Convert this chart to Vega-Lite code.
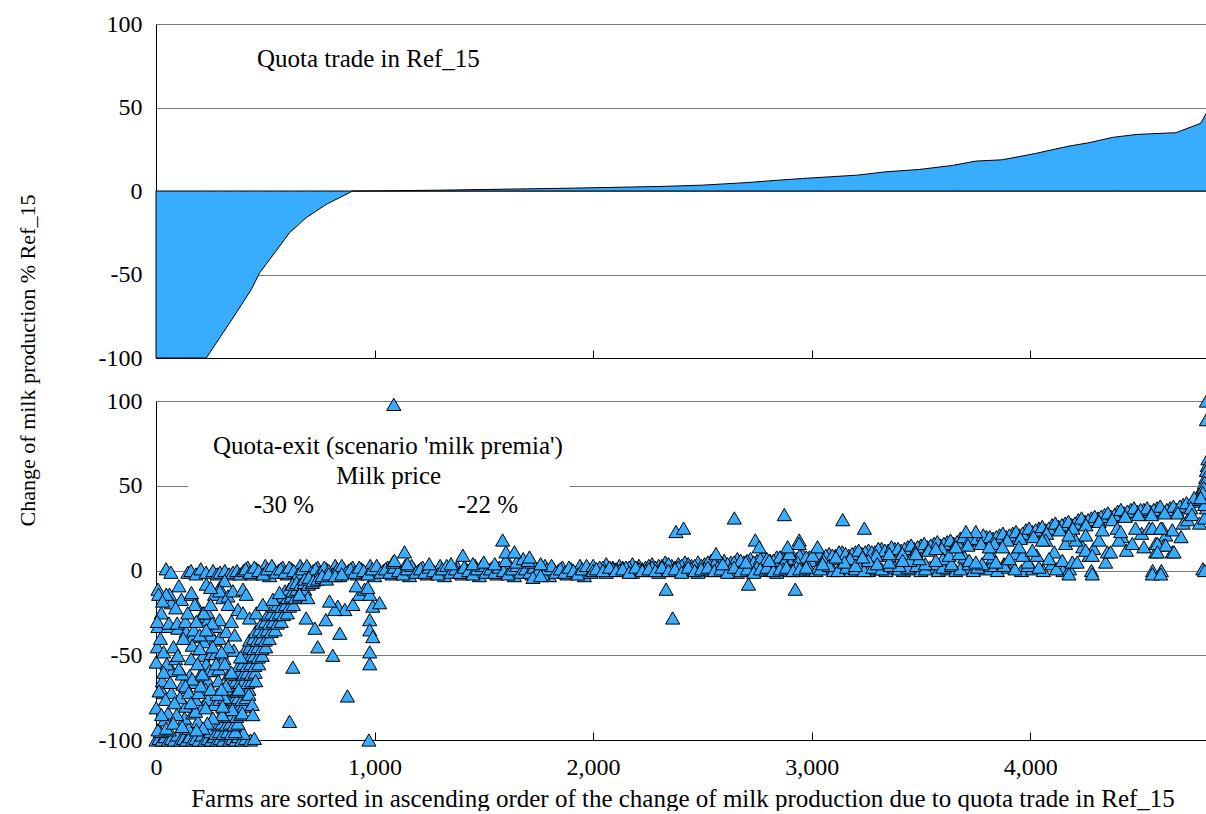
{
"$schema": "https://vega.github.io/schema/vega-lite/v6.json",
"background": "white",
"padding": {"left": 16, "top": 12, "right": 0, "bottom": 0},
"spacing": 43,
"bounds": "flush",
"config": {
  "font": "Liberation Serif",
  "view": {"stroke": null},
  "axis": {"labelFont": "Liberation Serif", "titleFont": "Liberation Serif", "labelFontSize": 24, "titleFontSize": 25, "labelColor": "black", "titleColor": "black", "titleFontWeight": "normal", "domainColor": "black", "domainWidth": 1, "tickColor": "black", "tickWidth": 1, "gridColor": "#7a7a7a", "gridWidth": 1, "labelFlush": false}
},
"datasets": {
  "area": [
    {"x":0,"y":-100},{"x":230,"y":-100},{"x":291,"y":-88},{"x":367,"y":-73},{"x":436,"y":-59},{"x":474,"y":-49},{"x":543,"y":-37},{"x":611,"y":-25},{"x":687,"y":-16},{"x":779,"y":-8},{"x":885,"y":-1},{"x":900,"y":0},{"x":1100,"y":0.2},{"x":1300,"y":0.5},{"x":1500,"y":0.9},{"x":1700,"y":1.3},{"x":1900,"y":1.7},{"x":2100,"y":2.2},{"x":2300,"y":2.7},{"x":2500,"y":3.5},{"x":2700,"y":5},{"x":2850,"y":6.5},{"x":2958,"y":7.5},{"x":3210,"y":9.5},{"x":3340,"y":11.5},{"x":3492,"y":12.9},{"x":3644,"y":15.3},{"x":3751,"y":17.9},{"x":3873,"y":18.7},{"x":4025,"y":22.5},{"x":4178,"y":26.9},{"x":4269,"y":28.9},{"x":4376,"y":32.1},{"x":4490,"y":33.9},{"x":4666,"y":34.9},{"x":4780,"y":40.5},{"x":4807,"y":46.9},{"x":4812,"y":60},{"x":4815,"y":76}
  ],
  "notes": [
    {"label":"Quota-exit (scenario 'milk premia')","x":1061,"y":68.8},
    {"label":"Milk price","x":1065,"y":51.2},
    {"label":"-30 %","x":585,"y":34.1},
    {"label":"-22 %","x":1518,"y":34.1}
  ],
  "pts": [
    {"x":0,"y":-100},{"x":14,"y":-99},{"x":28,"y":-100},{"x":42,"y":-98},{"x":56,"y":-100},{"x":70,"y":-99},{"x":84,"y":-100},{"x":98,"y":-97},{"x":112,"y":-100},{"x":126,"y":-99},{"x":140,"y":-100},{"x":154,"y":-98},{"x":168,"y":-100},{"x":182,"y":-99},{"x":196,"y":-100},{"x":210,"y":-97},{"x":224,"y":-100},{"x":238,"y":-99},{"x":252,"y":-100},{"x":266,"y":-98},{"x":280,"y":-100},{"x":294,"y":-99},{"x":308,"y":-100},{"x":322,"y":-97},{"x":336,"y":-100},{"x":350,"y":-99},{"x":364,"y":-100},{"x":378,"y":-98},{"x":392,"y":-100},{"x":410,"y":-99},{"x":432,"y":-100},{"x":450,"y":-99},{"x":974,"y":-100},{"x":20,"y":-95},{"x":60,"y":-94},{"x":150,"y":-93},{"x":250,"y":-95},{"x":300,"y":-93},{"x":400,"y":-96},
    {"x":46,"y":1},{"x":68,"y":-1},{"x":146,"y":-1},{"x":160,"y":0},{"x":183,"y":-2},{"x":205,"y":1},{"x":229,"y":-1},{"x":261,"y":0},{"x":280,"y":-2},{"x":293,"y":-1},{"x":315,"y":0},{"x":335,"y":-2},{"x":352,"y":-1},{"x":370,"y":0},{"x":385,"y":-2},
    {"x":400,"y":0},{"x":420,"y":2},{"x":440,"y":-2},{"x":460,"y":1},{"x":480,"y":-1},{"x":500,"y":3},{"x":520,"y":-3},{"x":540,"y":1},{"x":560,"y":0},{"x":580,"y":2},{"x":600,"y":-2},{"x":620,"y":1},{"x":640,"y":-1},{"x":660,"y":3},{"x":680,"y":-3},{"x":700,"y":1},{"x":720,"y":0},{"x":740,"y":2},{"x":760,"y":-2},{"x":780,"y":1},{"x":800,"y":-1},{"x":820,"y":3},{"x":840,"y":-3},{"x":860,"y":1},{"x":880,"y":0},{"x":900,"y":2},{"x":920,"y":-2},{"x":940,"y":1},{"x":960,"y":-1},{"x":980,"y":3},{"x":1000,"y":-3},{"x":1020,"y":1},{"x":1040,"y":0},{"x":1060,"y":2},{"x":1080,"y":-2},{"x":1100,"y":1},{"x":1120,"y":-1},{"x":1140,"y":3},{"x":1160,"y":-3},{"x":1180,"y":1},{"x":1200,"y":0},{"x":1220,"y":2},{"x":1240,"y":-2},{"x":1260,"y":1},{"x":1280,"y":-1},{"x":1300,"y":3},{"x":1320,"y":-3},{"x":1340,"y":1},{"x":1360,"y":0},{"x":1380,"y":2},{"x":1400,"y":-2},{"x":1420,"y":1},{"x":1440,"y":-1},{"x":1460,"y":3},{"x":1480,"y":-3},{"x":1500,"y":1},{"x":1520,"y":0},{"x":1540,"y":2},{"x":1560,"y":-2},{"x":1580,"y":1},{"x":1600,"y":-1},{"x":1620,"y":3},{"x":1640,"y":-3},{"x":1660,"y":1},{"x":1680,"y":0},{"x":1700,"y":2},{"x":1720,"y":-2},{"x":1740,"y":1},{"x":1760,"y":-1},{"x":1780,"y":3},{"x":1800,"y":-3},{"x":1820,"y":1},{"x":1840,"y":0},{"x":1860,"y":2},{"x":1880,"y":-2},{"x":1900,"y":1},{"x":1920,"y":-1},{"x":1940,"y":3},{"x":1960,"y":-3},{"x":1980,"y":1},
    {"x":410,"y":1},{"x":430,"y":-1},{"x":450,"y":2},{"x":470,"y":0},{"x":490,"y":-2},{"x":510,"y":1},{"x":530,"y":3},{"x":550,"y":-1},{"x":570,"y":1},{"x":590,"y":-1},{"x":610,"y":2},{"x":630,"y":0},{"x":650,"y":-2},{"x":670,"y":1},{"x":690,"y":3},{"x":710,"y":-1},{"x":730,"y":1},{"x":750,"y":-1},{"x":770,"y":2},{"x":790,"y":0},{"x":810,"y":-2},{"x":830,"y":1},{"x":850,"y":3},{"x":870,"y":-1},{"x":890,"y":1},{"x":910,"y":-1},{"x":930,"y":2},{"x":950,"y":0},{"x":970,"y":-2},{"x":990,"y":1},{"x":1010,"y":3},{"x":1030,"y":-1},{"x":1050,"y":1},{"x":1070,"y":-1},{"x":1090,"y":2},{"x":1110,"y":0},{"x":1130,"y":-2},{"x":1150,"y":1},{"x":1170,"y":3},{"x":1190,"y":-1},{"x":1210,"y":1},{"x":1230,"y":-1},{"x":1250,"y":2},{"x":1270,"y":0},{"x":1290,"y":-2},{"x":1310,"y":1},{"x":1330,"y":3},{"x":1350,"y":-1},{"x":1370,"y":1},{"x":1390,"y":-1},{"x":1410,"y":2},{"x":1430,"y":0},{"x":1450,"y":-2},{"x":1470,"y":1},{"x":1490,"y":3},{"x":1510,"y":-1},{"x":1530,"y":1},{"x":1550,"y":-1},{"x":1570,"y":2},{"x":1590,"y":0},{"x":1610,"y":-2},{"x":1630,"y":1},{"x":1650,"y":3},{"x":1670,"y":-1},{"x":1690,"y":1},{"x":1710,"y":-1},{"x":1730,"y":2},{"x":1750,"y":0},{"x":1770,"y":-2},{"x":1790,"y":1},{"x":1810,"y":3},{"x":1830,"y":-1},{"x":1850,"y":1},{"x":1870,"y":-1},{"x":1890,"y":2},{"x":1910,"y":0},{"x":1930,"y":-2},{"x":1950,"y":1},{"x":1970,"y":3},{"x":1990,"y":-1},
    {"x":1150,"y":4},{"x":1250,"y":4},{"x":1350,"y":4},{"x":1450,"y":4},{"x":1500,"y":5},{"x":1550,"y":4},{"x":1600,"y":6},{"x":1650,"y":5},{"x":1680,"y":7},{"x":1720,"y":5},{"x":1760,"y":4},{"x":1725,"y":-4},{"x":1760,"y":-3},
    {"x":1088,"y":98},{"x":1084,"y":5},{"x":1091,"y":6},{"x":1137,"y":11},{"x":1404,"y":9},{"x":1586,"y":18},{"x":1601,"y":11},{"x":1640,"y":11},{"x":1702,"y":6},{"x":1709,"y":8},
    {"x":273,"y":-96},{"x":291,"y":-95},{"x":309,"y":-96},{"x":327,"y":-95},{"x":345,"y":-96},{"x":363,"y":-95},
    {"x":285,"y":-91},{"x":303,"y":-90},{"x":321,"y":-91},{"x":339,"y":-90},{"x":357,"y":-91},{"x":375,"y":-90},
    {"x":297,"y":-86},{"x":315,"y":-85},{"x":333,"y":-86},{"x":351,"y":-85},{"x":369,"y":-86},{"x":387,"y":-85},
    {"x":310,"y":-81},{"x":328,"y":-80},{"x":346,"y":-81},{"x":364,"y":-80},{"x":382,"y":-81},{"x":400,"y":-80},
    {"x":322,"y":-76},{"x":340,"y":-75},{"x":358,"y":-76},{"x":376,"y":-75},{"x":394,"y":-76},{"x":412,"y":-75},
    {"x":335,"y":-71},{"x":353,"y":-70},{"x":371,"y":-71},{"x":389,"y":-70},{"x":407,"y":-71},{"x":425,"y":-70},
    {"x":348,"y":-66},{"x":366,"y":-65},{"x":384,"y":-66},{"x":402,"y":-65},{"x":420,"y":-66},{"x":438,"y":-65},
    {"x":364,"y":-61},{"x":382,"y":-60},{"x":400,"y":-61},{"x":418,"y":-60},{"x":436,"y":-61},{"x":454,"y":-60},
    {"x":380,"y":-56},{"x":398,"y":-55},{"x":416,"y":-56},{"x":434,"y":-55},{"x":452,"y":-56},{"x":470,"y":-55},
    {"x":396,"y":-51},{"x":414,"y":-50},{"x":432,"y":-51},{"x":450,"y":-50},{"x":468,"y":-51},{"x":486,"y":-50},
    {"x":412,"y":-46},{"x":430,"y":-45},{"x":448,"y":-46},{"x":466,"y":-45},{"x":484,"y":-46},{"x":502,"y":-45},
    {"x":428,"y":-41},{"x":446,"y":-40},{"x":464,"y":-41},{"x":482,"y":-40},{"x":500,"y":-41},{"x":518,"y":-40},
    {"x":455,"y":-36},{"x":473,"y":-35},{"x":491,"y":-36},{"x":509,"y":-35},{"x":527,"y":-36},{"x":545,"y":-35},
    {"x":483,"y":-31},{"x":501,"y":-30},{"x":519,"y":-31},{"x":537,"y":-30},{"x":555,"y":-31},{"x":573,"y":-30},
    {"x":511,"y":-26},{"x":529,"y":-25},{"x":547,"y":-26},{"x":565,"y":-25},{"x":583,"y":-26},{"x":601,"y":-25},
    {"x":539,"y":-21},{"x":557,"y":-20},{"x":575,"y":-21},{"x":593,"y":-20},{"x":611,"y":-21},{"x":629,"y":-20},
    {"x":565,"y":-16},{"x":583,"y":-15},{"x":601,"y":-16},{"x":619,"y":-15},{"x":637,"y":-16},{"x":655,"y":-15},
    {"x":590,"y":-12},{"x":608,"y":-11},{"x":626,"y":-12},{"x":644,"y":-11},{"x":662,"y":-12},{"x":680,"y":-11},
    {"x":625,"y":-8},{"x":643,"y":-7},{"x":661,"y":-8},{"x":679,"y":-7},{"x":697,"y":-8},{"x":715,"y":-7},
    {"x":680,"y":-5},{"x":700,"y":-4},{"x":720,"y":-6},{"x":740,"y":-5},{"x":760,"y":-4},{"x":780,"y":-5},
    {"x":760,"y":-3},{"x":790,"y":-2},{"x":820,"y":-3},{"x":850,"y":-2},
    {"x":1,"y":-54},{"x":9,"y":-11},{"x":12,"y":-14},{"x":24,"y":-25},{"x":9,"y":-33},{"x":1,"y":-81},{"x":9,"y":-94},{"x":32,"y":-72},{"x":40,"y":-88},{"x":47,"y":-93},{"x":55,"y":-33},{"x":62,"y":-14},{"x":70,"y":-19},{"x":55,"y":-84},{"x":70,"y":-72},{"x":116,"y":-17},{"x":100,"y":-34},{"x":138,"y":-36},{"x":169,"y":-39},{"x":161,"y":-14},{"x":184,"y":-20},{"x":161,"y":-52},{"x":154,"y":-62},{"x":177,"y":-66},{"x":200,"y":-62},{"x":123,"y":-67},{"x":138,"y":-69},{"x":131,"y":-87},{"x":169,"y":-84},{"x":192,"y":-89},{"x":215,"y":-25},{"x":230,"y":-27},{"x":238,"y":-29},{"x":215,"y":-50},{"x":230,"y":-55},{"x":245,"y":-59},{"x":238,"y":-65},{"x":261,"y":-59},{"x":253,"y":-49},{"x":268,"y":-41},{"x":276,"y":-33},{"x":291,"y":-29},{"x":215,"y":-80},{"x":238,"y":-76},{"x":268,"y":-79},{"x":291,"y":-76},{"x":314,"y":-75},{"x":268,"y":-14},{"x":291,"y":-10},{"x":306,"y":-16},{"x":314,"y":-6},
    {"x":47,"y":-14},{"x":162,"y":-13},{"x":177,"y":-20},{"x":238,"y":-25},{"x":291,"y":-12},{"x":329,"y":-15},{"x":352,"y":-12},{"x":398,"y":-11},{"x":413,"y":-14},{"x":375,"y":-23},{"x":398,"y":-25},{"x":428,"y":-28},{"x":459,"y":-25},{"x":489,"y":-20},{"x":535,"y":-17},{"x":565,"y":-13},
    {"x":6,"y":-30},{"x":59,"y":-31},{"x":97,"y":-31},{"x":135,"y":-30},{"x":173,"y":-35},{"x":219,"y":-25},{"x":257,"y":-31},{"x":252,"y":-38},{"x":290,"y":-40},{"x":321,"y":-36},{"x":166,"y":-44},{"x":219,"y":-42},{"x":273,"y":-49},{"x":311,"y":-52},{"x":356,"y":-47},{"x":387,"y":-51},{"x":6,"y":-45},
    {"x":74,"y":-59},{"x":29,"y":-65},{"x":120,"y":-61},{"x":166,"y":-64},{"x":212,"y":-61},{"x":288,"y":-58},{"x":334,"y":-61},{"x":14,"y":-71},{"x":44,"y":-76},{"x":135,"y":-68},{"x":181,"y":-76},{"x":227,"y":-70},{"x":280,"y":-73},{"x":379,"y":-70},{"x":425,"y":-73},{"x":456,"y":-65},{"x":135,"y":-80},{"x":181,"y":-83},{"x":227,"y":-81},{"x":349,"y":-82},{"x":440,"y":-79},{"x":303,"y":-85},{"x":395,"y":-84},{"x":443,"y":-85},
    {"x":20,"y":-40},{"x":35,"y":-48},{"x":50,"y":-55},{"x":80,"y":-45},{"x":90,"y":-52},{"x":105,"y":-58},{"x":110,"y":-75},{"x":95,"y":-85},{"x":80,"y":-90},{"x":25,"y":-85},{"x":35,"y":-60},{"x":65,"y":-66},{"x":85,"y":-78},{"x":150,"y":-72},{"x":160,"y":-78},{"x":195,"y":-72},{"x":205,"y":-68},{"x":190,"y":-55},{"x":200,"y":-46},{"x":185,"y":-30},{"x":200,"y":-38},{"x":230,"y":-35},{"x":250,"y":-20},{"x":260,"y":-45},{"x":275,"y":-55},{"x":285,"y":-65},{"x":250,"y":-70},{"x":260,"y":-87},{"x":235,"y":-90},{"x":215,"y":-93},{"x":185,"y":-94},{"x":120,"y":-92},{"x":100,"y":-50},{"x":125,"y":-40},{"x":145,"y":-25},{"x":90,"y":-22},{"x":30,"y":-18},{"x":105,"y":-9},{"x":230,"y":-8},{"x":250,"y":-10},{"x":330,"y":-20},{"x":345,"y":-30},{"x":360,"y":-38},{"x":330,"y":-45},{"x":300,"y":-48},{"x":315,"y":-55},{"x":345,"y":-60},{"x":320,"y":-68},{"x":300,"y":-70},{"x":305,"y":-80},
    {"x":626,"y":-57},{"x":611,"y":-89},{"x":740,"y":-45},{"x":809,"y":-50},{"x":876,"y":-74},{"x":841,"y":-37},{"x":727,"y":-34},{"x":687,"y":-28},{"x":777,"y":-29},{"x":832,"y":-21},{"x":864,"y":-23},{"x":901,"y":-20},{"x":818,"y":-23},{"x":794,"y":-18},{"x":931,"y":-14},{"x":954,"y":-11},{"x":978,"y":-14},{"x":992,"y":-21},{"x":1023,"y":-19},{"x":978,"y":-29},{"x":978,"y":-35},{"x":992,"y":-39},{"x":978,"y":-48},{"x":978,"y":-55},{"x":916,"y":-9},{"x":969,"y":-10},{"x":695,"y":-16},{"x":657,"y":-14},
    {"x":2000,"y":3},{"x":2030,"y":1},{"x":2060,"y":4},{"x":2090,"y":2},{"x":2120,"y":3},{"x":2150,"y":1},{"x":2180,"y":4},{"x":2210,"y":3},{"x":2240,"y":2},{"x":2270,"y":4},{"x":2300,"y":3},{"x":2330,"y":5},{"x":2360,"y":3},{"x":2390,"y":4},{"x":2420,"y":5},{"x":2450,"y":3},{"x":2480,"y":5},{"x":2510,"y":4},{"x":2540,"y":6},{"x":2570,"y":4},{"x":2600,"y":6},{"x":2630,"y":5},{"x":2660,"y":7},{"x":2690,"y":5},{"x":2720,"y":7},{"x":2750,"y":6},{"x":2780,"y":8},{"x":2810,"y":6},{"x":2840,"y":8},{"x":2870,"y":7},{"x":2900,"y":9},{"x":2930,"y":7},{"x":2960,"y":9},{"x":2990,"y":8},{"x":3020,"y":10},{"x":3050,"y":8},{"x":3080,"y":10},{"x":3110,"y":9},{"x":3140,"y":11},{"x":3170,"y":9},{"x":3200,"y":11},{"x":3230,"y":10},{"x":3260,"y":12},{"x":3290,"y":11},{"x":3320,"y":13},{"x":3350,"y":12},{"x":3380,"y":13},{"x":3410,"y":12},{"x":3440,"y":14},{"x":3470,"y":13},{"x":3500,"y":15},{"x":3530,"y":14},{"x":3560,"y":16},{"x":3590,"y":15},{"x":3620,"y":17},{"x":3650,"y":16},{"x":3680,"y":19},{"x":3710,"y":18},{"x":3740,"y":20},{"x":3770,"y":18},{"x":3800,"y":20},{"x":3830,"y":19},{"x":3860,"y":21},{"x":3890,"y":20},{"x":3920,"y":22},{"x":3950,"y":21},{"x":3980,"y":24},{"x":4010,"y":23},{"x":4040,"y":25},{"x":4070,"y":24},{"x":4100,"y":27},{"x":4130,"y":26},{"x":4160,"y":28},{"x":4190,"y":27},{"x":4220,"y":30},{"x":4250,"y":29},{"x":4280,"y":31},{"x":4310,"y":31},{"x":4340,"y":33},{"x":4370,"y":32},{"x":4400,"y":35},{"x":4430,"y":34},{"x":4460,"y":36},{"x":4490,"y":35},{"x":4520,"y":36},{"x":4550,"y":35},{"x":4580,"y":37},{"x":4610,"y":35},{"x":4640,"y":37},{"x":4670,"y":36},{"x":4700,"y":39},{"x":4730,"y":38},{"x":4745,"y":41},{"x":4760,"y":42},{"x":4772,"y":45},{"x":4785,"y":48},
    {"x":2015,"y":1},{"x":2045,"y":2},{"x":2075,"y":2},{"x":2105,"y":1},{"x":2135,"y":2},{"x":2165,"y":2},{"x":2195,"y":2},{"x":2225,"y":1},{"x":2255,"y":3},{"x":2285,"y":2},{"x":2315,"y":3},{"x":2345,"y":4},{"x":2375,"y":2},{"x":2405,"y":3},{"x":2435,"y":4},{"x":2465,"y":3},{"x":2495,"y":3},{"x":2525,"y":5},{"x":2555,"y":4},{"x":2585,"y":5},{"x":2615,"y":4},{"x":2645,"y":5},{"x":2675,"y":6},{"x":2705,"y":6},{"x":2735,"y":5},{"x":2765,"y":7},{"x":2795,"y":7},{"x":2825,"y":6},{"x":2855,"y":8},{"x":2885,"y":8},{"x":2915,"y":7},{"x":2945,"y":9},{"x":2975,"y":8},{"x":3005,"y":8},{"x":3035,"y":10},{"x":3065,"y":9},{"x":3095,"y":9},{"x":3125,"y":11},{"x":3155,"y":10},{"x":3185,"y":10},{"x":3215,"y":12},{"x":3245,"y":11},{"x":3275,"y":11},{"x":3305,"y":13},{"x":3335,"y":12},{"x":3365,"y":14},{"x":3395,"y":13},{"x":3425,"y":13},{"x":3455,"y":15},{"x":3485,"y":14},{"x":3515,"y":16},{"x":3545,"y":15},{"x":3575,"y":17},{"x":3605,"y":16},{"x":3635,"y":18},{"x":3665,"y":17},{"x":3695,"y":20},{"x":3725,"y":19},{"x":3755,"y":19},{"x":3785,"y":21},{"x":3815,"y":20},{"x":3845,"y":20},{"x":3875,"y":22},{"x":3905,"y":21},{"x":3935,"y":23},{"x":3965,"y":22},{"x":3995,"y":25},{"x":4025,"y":24},{"x":4055,"y":26},{"x":4085,"y":25},{"x":4115,"y":28},{"x":4145,"y":27},{"x":4175,"y":29},{"x":4205,"y":28},{"x":4235,"y":31},{"x":4265,"y":30},{"x":4295,"y":32},{"x":4325,"y":32},{"x":4355,"y":34},{"x":4385,"y":33},{"x":4415,"y":36},{"x":4445,"y":35},{"x":4475,"y":37},{"x":4505,"y":36},{"x":4535,"y":37},{"x":4565,"y":36},{"x":4595,"y":38},{"x":4625,"y":36},{"x":4655,"y":38},{"x":4685,"y":38},{"x":4715,"y":40},{"x":4750,"y":43},
    {"x":2815,"y":4},{"x":2875,"y":5},{"x":2935,"y":5},{"x":2995,"y":6},{"x":3055,"y":6},{"x":3115,"y":7},{"x":3175,"y":7},{"x":3235,"y":8},{"x":3295,"y":9},{"x":3355,"y":9},{"x":3415,"y":10},{"x":3475,"y":11},{"x":3535,"y":12},{"x":3595,"y":13},{"x":3655,"y":14},{"x":3715,"y":15},{"x":3775,"y":16},{"x":3835,"y":16},{"x":3895,"y":18},{"x":3955,"y":19},{"x":4015,"y":20},{"x":4075,"y":22},{"x":4135,"y":24},{"x":4195,"y":25},{"x":4255,"y":27},{"x":4315,"y":29},{"x":4375,"y":30},{"x":4435,"y":32},{"x":4495,"y":33},{"x":4555,"y":33},{"x":4615,"y":34},{"x":4675,"y":34},{"x":4735,"y":37},
    {"x":2000,"y":0},{"x":2030,"y":2},{"x":2060,"y":-1},{"x":2090,"y":1},{"x":2120,"y":0},{"x":2150,"y":2},{"x":2180,"y":-1},{"x":2210,"y":1},{"x":2240,"y":0},{"x":2270,"y":2},{"x":2300,"y":-1},{"x":2330,"y":1},{"x":2360,"y":0},{"x":2390,"y":2},{"x":2420,"y":0},{"x":2450,"y":1},{"x":2480,"y":-1},{"x":2510,"y":1},{"x":2540,"y":0},{"x":2570,"y":2},{"x":2600,"y":0},{"x":2630,"y":1},{"x":2660,"y":-1},{"x":2690,"y":1},{"x":2720,"y":0},{"x":2750,"y":2},{"x":2780,"y":0},{"x":2810,"y":1},{"x":2840,"y":-1},{"x":2870,"y":1},{"x":2900,"y":0},{"x":2930,"y":2},{"x":2960,"y":0},{"x":2990,"y":1},{"x":3020,"y":0},{"x":3060,"y":2},{"x":3100,"y":0},{"x":3140,"y":1},{"x":3180,"y":0},{"x":3220,"y":2},{"x":3260,"y":0},{"x":3300,"y":1},{"x":3340,"y":0},{"x":3380,"y":2},{"x":3420,"y":0},{"x":3460,"y":1},{"x":3500,"y":0},{"x":3540,"y":2},{"x":3580,"y":0},{"x":3620,"y":1},{"x":3660,"y":0},{"x":3700,"y":2},{"x":3740,"y":0},{"x":3800,"y":1},{"x":3850,"y":0},{"x":3900,"y":2},{"x":3960,"y":0},{"x":4010,"y":1},{"x":4060,"y":0},{"x":4150,"y":0},{"x":4180,"y":1},{"x":4280,"y":0},{"x":4560,"y":0},{"x":4600,"y":0},{"x":4790,"y":1},
    {"x":2015,"y":1},{"x":2045,"y":0},{"x":2075,"y":2},{"x":2105,"y":0},{"x":2135,"y":1},{"x":2165,"y":-1},{"x":2195,"y":2},{"x":2225,"y":0},{"x":2255,"y":1},{"x":2285,"y":0},{"x":2315,"y":2},{"x":2345,"y":0},{"x":2375,"y":1},{"x":2405,"y":-1},{"x":2435,"y":2},{"x":2465,"y":0},{"x":2495,"y":1},{"x":2525,"y":2},{"x":2555,"y":0},{"x":2585,"y":1},{"x":2615,"y":-1},{"x":2645,"y":2},{"x":2675,"y":0},{"x":2705,"y":1},{"x":2735,"y":-1},{"x":2765,"y":1},{"x":2795,"y":2},{"x":2825,"y":0},{"x":2855,"y":1},{"x":2885,"y":2},{"x":2915,"y":0},{"x":2945,"y":1},{"x":2975,"y":2},{"x":3040,"y":1},{"x":3080,"y":3},{"x":3120,"y":0},{"x":3160,"y":2},{"x":3200,"y":1},{"x":3240,"y":0},{"x":3280,"y":2},{"x":3320,"y":1},{"x":3360,"y":3},{"x":3400,"y":1},{"x":3440,"y":2},{"x":3480,"y":3},{"x":3520,"y":1},{"x":3560,"y":4},{"x":3600,"y":2},{"x":3640,"y":3},{"x":3680,"y":1},{"x":3720,"y":4},{"x":3760,"y":2},{"x":3820,"y":3},{"x":3880,"y":4},{"x":3930,"y":1},{"x":3990,"y":3},{"x":4040,"y":2},{"x":4100,"y":4},{"x":4120,"y":1},
    {"x":3050,"y":4},{"x":3150,"y":5},{"x":3200,"y":3},{"x":3260,"y":6},{"x":3300,"y":4},{"x":3400,"y":3},{"x":3450,"y":6},{"x":3520,"y":4},{"x":3600,"y":7},{"x":3640,"y":4},{"x":3700,"y":8},{"x":3780,"y":4},{"x":3830,"y":8},{"x":3880,"y":3},{"x":3930,"y":10},{"x":3990,"y":5},{"x":4030,"y":9},{"x":4110,"y":11},{"x":4240,"y":14},{"x":4290,"y":13},{"x":4420,"y":20},{"x":4440,"y":12},{"x":4510,"y":22},{"x":4520,"y":14},{"x":4620,"y":21},{"x":4690,"y":20},{"x":4700,"y":28},{"x":4720,"y":30},{"x":4740,"y":33},
    {"x":3355,"y":5},{"x":3416,"y":6},{"x":3492,"y":7},{"x":3568,"y":6},{"x":3629,"y":9},{"x":3675,"y":10},{"x":3721,"y":6},{"x":3751,"y":5},{"x":3812,"y":10},{"x":3843,"y":5},{"x":3904,"y":7},{"x":3965,"y":9},{"x":4010,"y":12},{"x":4071,"y":18},{"x":4086,"y":7},{"x":4147,"y":6},{"x":4162,"y":16},{"x":4193,"y":5},{"x":4208,"y":18},{"x":4269,"y":9},{"x":4315,"y":18},{"x":4345,"y":5},{"x":4353,"y":11},{"x":4398,"y":25},{"x":4467,"y":16},{"x":4574,"y":11},{"x":4574,"y":16},{"x":4612,"y":15},{"x":4650,"y":11},{"x":4544,"y":25},{"x":4605,"y":25},{"x":4650,"y":24},{"x":4482,"y":25},{"x":4406,"y":18},{"x":4330,"y":24},{"x":4254,"y":21},{"x":4177,"y":21},{"x":4056,"y":18},{"x":3949,"y":14},{"x":3873,"y":14},{"x":3812,"y":14},{"x":3751,"y":23},{"x":3706,"y":23},{"x":3660,"y":14},{"x":3568,"y":13},{"x":3477,"y":10},{"x":3355,"y":10},{"x":3233,"y":8},{"x":3111,"y":8},{"x":3004,"y":9},{"x":2898,"y":10},{"x":2806,"y":6},{"x":2699,"y":5},{"x":2593,"y":4},
    {"x":4254,"y":12},{"x":4284,"y":9},{"x":4215,"y":5},{"x":4177,"y":-2},{"x":4284,"y":-2},{"x":4368,"y":11},{"x":4414,"y":23},{"x":4559,"y":25},{"x":4597,"y":25},{"x":4582,"y":16},{"x":4620,"y":15},{"x":4658,"y":11},{"x":4582,"y":11},{"x":4559,"y":-2},{"x":4597,"y":-2},{"x":4798,"y":0},{"x":4775,"y":28},{"x":4798,"y":31},{"x":4806,"y":37},{"x":4798,"y":39},
    {"x":4806,"y":100},{"x":4806,"y":89},{"x":4813,"y":66},{"x":4810,"y":62},{"x":4806,"y":59},{"x":4803,"y":55},{"x":4798,"y":52},{"x":4794,"y":49},{"x":4790,"y":46},{"x":4780,"y":43},
    {"x":2646,"y":31},{"x":2875,"y":33},{"x":3142,"y":30},{"x":3241,"y":25},{"x":2379,"y":23},{"x":2414,"y":25},{"x":2742,"y":18},{"x":2760,"y":14},{"x":2943,"y":18},{"x":2890,"y":14},{"x":2943,"y":16},{"x":3027,"y":14},{"x":2334,"y":-11},{"x":2364,"y":-28},{"x":2711,"y":-8},{"x":2925,"y":-11},{"x":2562,"y":10}
  ]
},
"vconcat": [
  {
    "width": 1053,
    "height": 334,
    "layer": [
      {
        "data": {"name": "area"},
        "mark": {"type": "area", "color": "#38ACFF", "stroke": "black", "strokeWidth": 1, "opacity": 1},
        "encoding": {
          "x": {"field": "x", "type": "quantitative", "scale": {"domain": [0, 4818], "nice": false}, "axis": {"values": [1000, 2000, 3000, 4000], "labels": false, "title": null, "grid": false, "tickSize": -8}},
          "y": {"field": "y", "type": "quantitative", "scale": {"domain": [-100, 100], "nice": false}, "axis": {"values": [-100, -50, 0, 50, 100], "ticks": false, "labelPadding": 14, "grid": true, "labelFont": "Liberation Serif", "labelExpr": "datum.value < 0 ? '-' + abs(datum.value) : '' + datum.value", "title": "Change of milk production % Ref_15", "titleFontSize": 22, "titleX": -117, "titleY": 336}}
        }
      },
      {
        "mark": {"type": "rule", "color": "black", "strokeWidth": 1},
        "encoding": {"y": {"datum": 100}}
      },
      {
        "data": {"values": [{"label": "Quota trade in Ref_15", "x": 972, "y": 74}]},
        "mark": {"type": "text", "fontSize": 25, "font": "Liberation Serif", "align": "center", "baseline": "alphabetic", "color": "black"},
        "encoding": {
          "x": {"field": "x", "type": "quantitative"},
          "y": {"field": "y", "type": "quantitative"},
          "text": {"field": "label"}
        }
      }
    ]
  },
  {
    "width": 1053,
    "height": 339,
    "layer": [
      {
        "data": {"values": [{"x1": 146, "x2": 1893, "y1": 42, "y2": 90}]},
        "mark": {"type": "rect", "color": "white", "opacity": 1},
        "encoding": {
          "x": {"field": "x1", "type": "quantitative", "scale": {"domain": [0, 4818], "nice": false}, "axis": {"values": [0, 1000, 2000, 3000, 4000], "format": ",.0f", "tickSize": -8, "labelPadding": 23, "grid": false, "labelFont": "Liberation Serif", "title": "Farms are sorted in ascending order of the change of milk production due to quota trade in Ref_15", "titlePadding": 7}},
          "x2": {"field": "x2"},
          "y": {"field": "y1", "type": "quantitative", "scale": {"domain": [-100, 100], "nice": false}, "axis": {"values": [-100, -50, 0, 50, 100], "ticks": false, "labelPadding": 14, "grid": true, "labelFont": "Liberation Serif", "labelExpr": "datum.value < 0 ? '-' + abs(datum.value) : '' + datum.value", "title": null}},
          "y2": {"field": "y2"}
        }
      },
      {
        "data": {"name": "pts"},
        "mark": {"type": "point", "shape": "triangle-up", "filled": true, "fill": "#38ACFF", "stroke": "black", "strokeWidth": 1, "size": 200, "opacity": 1},
        "encoding": {
          "x": {"field": "x", "type": "quantitative"},
          "y": {"field": "y", "type": "quantitative"}
        }
      },
      {
        "data": {"name": "notes"},
        "mark": {"type": "text", "fontSize": 25, "font": "Liberation Serif", "align": "center", "baseline": "alphabetic", "color": "black"},
        "encoding": {
          "x": {"field": "x", "type": "quantitative"},
          "y": {"field": "y", "type": "quantitative"},
          "text": {"field": "label"}
        }
      }
    ]
  }
]
}
